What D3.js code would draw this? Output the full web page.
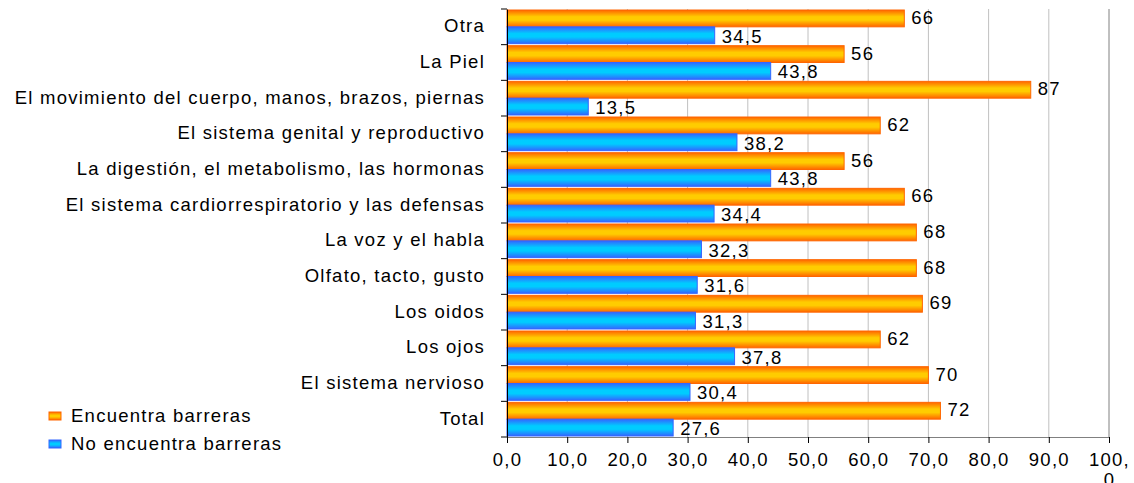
<!DOCTYPE html>
<html>
<head>
<meta charset="utf-8">
<script src="https://cdn.jsdelivr.net/npm/d3@7"></script>
<style>
  body { margin: 0; background: #fff; }
  svg text { font-family: "Liberation Sans", Arial, sans-serif; font-size: 18.5px; letter-spacing: 1.25px; fill: #000; }
</style>
</head>
<body>
<script>
const categories = [
  "Otra",
  "La Piel",
  "El movimiento del cuerpo, manos, brazos, piernas",
  "El sistema genital y reproductivo",
  "La digestión, el metabolismo, las hormonas",
  "El sistema cardiorrespiratorio y las defensas",
  "La voz y el habla",
  "Olfato, tacto, gusto",
  "Los oidos",
  "Los ojos",
  "El sistema nervioso",
  "Total"
];
const encuentra = [66, 56, 87, 62, 56, 66, 68, 68, 69, 62, 70, 72];
const noEncuentra = [34.5, 43.8, 13.5, 38.2, 43.8, 34.4, 32.3, 31.6, 31.3, 37.8, 30.4, 27.6];
const xTicks = [0, 10, 20, 30, 40, 50, 60, 70, 80, 90, 100];
const seriesNames = ["Encuentra barreras", "No encuentra barreras"];

const width = 1134, height = 483;
const plotLeft = 507, plotRight = 1109, plotTop = 9, plotBottom = 437;

const svg = d3.select("body").append("svg")
  .attr("width", width)
  .attr("height", height);

// gradients
const defs = svg.append("defs");
function addGrad(id, edge, mid) {
  const g = defs.append("linearGradient")
    .attr("id", id).attr("x1", 0).attr("x2", 0).attr("y1", 0).attr("y2", 1);
  g.append("stop").attr("offset", "0%").attr("stop-color", edge);
  g.append("stop").attr("offset", "40%").attr("stop-color", mid);
  g.append("stop").attr("offset", "60%").attr("stop-color", mid);
  g.append("stop").attr("offset", "100%").attr("stop-color", edge);
}
addGrad("gOrange", "#ff6600", "#ffcc00");
addGrad("gBlue", "#3366ff", "#00ccff");

const x = d3.scaleLinear().domain([0, 100]).range([plotLeft, plotRight]);
const y = d3.scaleBand().domain(categories).range([plotTop, plotBottom]);
const inner = d3.scaleBand().domain([0, 1]).range([0, y.bandwidth()]).paddingOuter(0.06);

// grid
svg.append("g").selectAll("line")
  .data(xTicks.slice(1, -1))
  .enter().append("line")
    .attr("x1", d => x(d)).attr("x2", d => x(d))
    .attr("y1", plotTop).attr("y2", plotBottom)
    .attr("stroke", "#c0c0c0");

svg.append("line")
  .attr("x1", plotRight).attr("x2", plotRight)
  .attr("y1", plotTop).attr("y2", plotBottom)
  .attr("stroke", "#808080");

// bars
const rows = svg.append("g").selectAll("g")
  .data(categories)
  .enter().append("g")
    .attr("transform", d => `translate(0,${y(d)})`);

const fmt = v => String(v).replace(".", ",");

rows.append("rect")
  .attr("x", x(0))
  .attr("y", inner(0))
  .attr("width", (d, i) => x(encuentra[i]) - x(0))
  .attr("height", inner.bandwidth())
  .attr("fill", "url(#gOrange)")
  .attr("stroke", "#ff6600");

rows.append("rect")
  .attr("x", x(0))
  .attr("y", inner(1))
  .attr("width", (d, i) => x(noEncuentra[i]) - x(0))
  .attr("height", inner.bandwidth())
  .attr("fill", "url(#gBlue)")
  .attr("stroke", "#3366ff");

rows.append("text")
  .attr("x", (d, i) => x(encuentra[i]) + 7)
  .attr("y", inner(0) + inner.bandwidth() / 2 - 1)
  .attr("dy", "0.35em")
  .text((d, i) => fmt(encuentra[i]));

rows.append("text")
  .attr("x", (d, i) => x(noEncuentra[i]) + 7)
  .attr("y", inner(1) + inner.bandwidth() / 2 + 1)
  .attr("dy", "0.35em")
  .text((d, i) => fmt(noEncuentra[i]));

// y axis
const yAxis = svg.append("g")
  .attr("transform", `translate(${plotLeft},0)`)
  .call(d3.axisLeft(y).tickSize(0).tickPadding(22));
yAxis.select(".domain").attr("stroke", "#000");
yAxis.selectAll("text").attr("font-size", null).attr("font-family", null).attr("dy", "0.3em");
yAxis.append("g").selectAll("line")
  .data(d3.range(categories.length + 1))
  .enter().append("line")
    .attr("x1", -6).attr("x2", 0)
    .attr("y1", i => plotTop + i * y.step()).attr("y2", i => plotTop + i * y.step())
    .attr("stroke", "#000");

// x axis
const xAxis = svg.append("g")
  .attr("transform", `translate(0,${plotBottom})`)
  .call(d3.axisBottom(x).tickValues(xTicks).tickSize(6).tickSizeOuter(0).tickPadding(10)
    .tickFormat(d => d3.format(".1f")(d).replace(".", ",")));
xAxis.select(".domain").attr("stroke", "#808080");
xAxis.selectAll("line").attr("stroke", "#000");
xAxis.selectAll("text").attr("font-size", null).attr("font-family", null);
// last label wraps like the original
xAxis.selectAll(".tick").filter(d => d === 100).select("text")
  .text(null)
  .call(t => {
    t.append("tspan").attr("x", 0).attr("dy", "0.71em").text("100,");
    t.append("tspan").attr("x", 0).attr("dy", "1.1em").text("0");
  });

// legend
const legend = svg.append("g").attr("transform", "translate(49,412)");
const legFill = ["url(#gOrange)", "url(#gBlue)"];
const legStroke = ["#ff6600", "#3366ff"];
legend.selectAll("g")
  .data(seriesNames)
  .enter().append("g")
    .attr("transform", (d, i) => `translate(0,${i * 28})`)
    .call(g => {
      g.append("rect").attr("width", 12).attr("height", 8)
        .attr("fill", (d, i) => legFill[i]).attr("stroke", (d, i) => legStroke[i]);
      g.append("text").attr("x", 22).attr("y", 4).attr("dy", "0.35em").text(d => d);
    });
</script>
</body>
</html>
